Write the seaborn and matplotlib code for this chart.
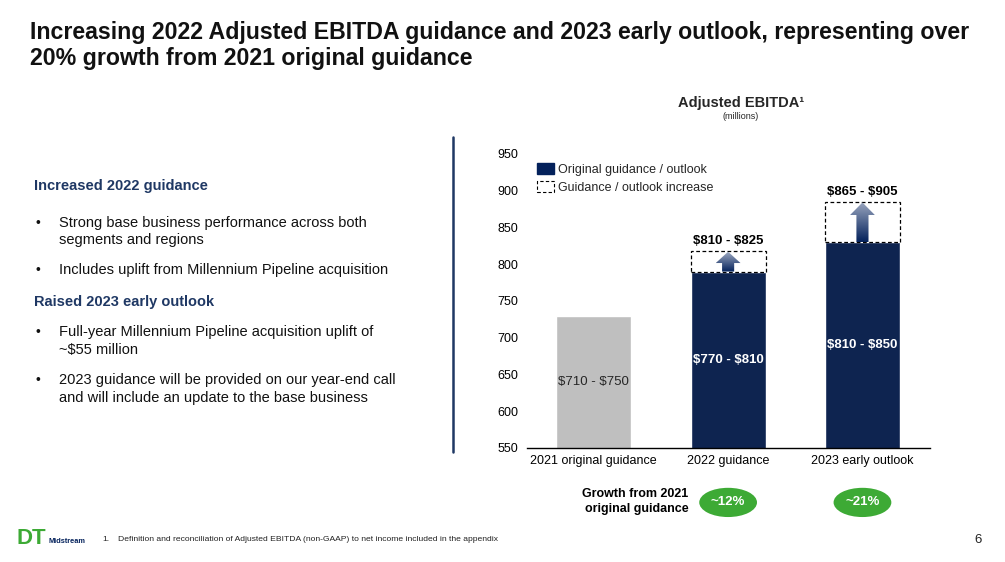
import matplotlib
matplotlib.use('Agg')
import matplotlib.pyplot as plt
import matplotlib.patches as mpatches
import matplotlib.transforms as mtransforms
import numpy as np
import pandas as pd
import seaborn as sns

# chart data
categories = ['2021 original guidance', '2022 guidance', '2023 early outlook']
base_values = [730, 790, 830]
increase_values = [0, 28, 55]
inside_labels = ['$710 - $750', '$770 - $810', '$810 - $850']
top_labels = ['', '$810 - $825', '$865 - $905']
growth_labels = ['', '~12%', '~21%']
y_ticks = [550, 600, 650, 700, 750, 800, 850, 900, 950]

NAVY = '#03215B'
GRAY = '#BFBFBF'
GREEN = '#3DAA35'
HEAD = '#1F3864'

sns.set_theme(style='white')
plt.rcParams['font.family'] = ['Liberation Sans', 'DejaVu Sans']

fig = plt.figure(figsize=(10.05, 5.62), dpi=100)
ax = fig.add_axes([0.524, 0.203, 0.401, 0.523])

df = pd.DataFrame({'category': categories, 'base': base_values})
sns.barplot(data=df, x='category', y='base', hue='category',
            palette=[GRAY, NAVY, NAVY], width=0.56, legend=False, ax=ax)

# dashed boxes for the increase
for i, inc in enumerate(increase_values):
    if inc > 0:
        ax.bar(i, inc, bottom=base_values[i], width=0.56, fill=False,
               edgecolor='black', linestyle=(0, (3, 2)), linewidth=0.9)

# gradient arrows inside the dashed boxes
grad = np.linspace(0, 1, 256).reshape(-1, 1)
cmap = matplotlib.colors.LinearSegmentedColormap.from_list('arr', [NAVY, '#9AA6BF'])
for i, inc in enumerate(increase_values):
    if inc <= 0:
        continue
    y0 = base_values[i]
    y1 = y0 + inc - 1
    yh = y1 - min(17, inc * 0.55)
    sw, hw = 0.045, 0.092
    pts = [(i - sw, y0), (i - sw, yh), (i - hw, yh), (i, y1),
           (i + hw, yh), (i + sw, yh), (i + sw, y0)]
    poly = mpatches.Polygon(pts, closed=True, facecolor='none', edgecolor='none',
                            transform=ax.transData)
    ax.add_patch(poly)
    im = ax.imshow(grad, cmap=cmap, extent=[i - hw, i + hw, y0, y1],
                   aspect='auto', origin='lower', zorder=3)
    im.set_clip_path(poly)

ax.set_ylim(550, 950)
ax.set_xlim(-0.5, 2.5)

# labels
for i in range(len(categories)):
    mid = (550 + base_values[i]) / 2
    ax.text(i, mid, inside_labels[i], ha='center', va='center', fontsize=9.5,
            color='#262626' if i == 0 else 'white',
            fontweight='bold' if i else 'normal', parse_math=False)
    if top_labels[i]:
        ax.text(i, base_values[i] + increase_values[i] + 5, top_labels[i],
                ha='center', va='bottom', fontsize=9.5, fontweight='bold',
                color='black', parse_math=False)

ax.set_yticks(y_ticks)
ax.set_xlabel('')
ax.set_ylabel('')
ax.tick_params(axis='both', length=0, labelsize=9, colors='black', pad=6)
ax.tick_params(axis='x', pad=5)
for s in ['top', 'right', 'left']:
    ax.spines[s].set_visible(False)
ax.spines['bottom'].set_color('black')
ax.spines['bottom'].set_linewidth(1)
ax.grid(False)

handles = [mpatches.Patch(facecolor=NAVY, edgecolor=NAVY, label='Original guidance / outlook'),
           mpatches.Patch(facecolor='none', edgecolor='black', linestyle=(0, (3, 2)),
                          linewidth=0.8, label='Guidance / outlook increase')]
ax.legend(handles=handles, loc='upper left', bbox_to_anchor=(0.003, 1.0), frameon=False,
          fontsize=9, handlelength=1.4, handleheight=1.0, handletextpad=0.35,
          labelspacing=0.45, borderaxespad=0.3)

# growth ellipses below the chart
blend = mtransforms.blended_transform_factory(ax.transData, fig.transFigure)
for i, g in enumerate(growth_labels):
    if not g:
        continue
    e = mpatches.Ellipse((i, 0.106), 0.43, 0.052, transform=blend,
                         facecolor=GREEN, edgecolor='none', clip_on=False)
    ax.add_patch(e)
    ax.text(i, 0.106, g, transform=blend, ha='center', va='center', fontsize=9.5,
            fontweight='bold', color='white', clip_on=False)

fig.text(0.685, 0.107, 'Growth from 2021\noriginal guidance', ha='right', va='center',
         fontsize=9, fontweight='bold', color='black', linespacing=1.35)

# chart heading
fig.text(0.737, 0.817, 'Adjusted EBITDA\u00b9', ha='center', va='center', fontsize=10.5,
         fontweight='bold')
fig.text(0.737, 0.792, '(millions)', ha='center', va='center', fontsize=6.5)

# slide title
fig.text(0.030, 0.962, 'Increasing 2022 Adjusted EBITDA guidance and 2023 early outlook, representing over\n'
         '20% growth from 2021 original guidance', ha='left', va='top', fontsize=16.7,
         fontweight='bold', color='#111111', linespacing=1.15)

# left column text
left = [
    (0.669, 'Increased 2022 guidance', 'head'),
    (0.588, 'Strong base business performance across both\nsegments and regions', 'bullet'),
    (0.519, 'Includes uplift from Millennium Pipeline acquisition', 'bullet'),
    (0.463, 'Raised 2023 early outlook', 'head'),
    (0.393, 'Full-year Millennium Pipeline acquisition uplift of\n~$55 million', 'bullet'),
    (0.308, '2023 guidance will be provided on our year-end call\nand will include an update to the base business', 'bullet'),
]
for y, t, kind in left:
    if kind == 'head':
        fig.text(0.034, y, t, ha='left', va='center', fontsize=10.5, fontweight='bold', color=HEAD)
    else:
        fig.text(0.035, y + (0.016 if '\n' in t else 0), '\u2022', ha='left', va='center',
                 fontsize=10, color='#111111')
        fig.text(0.059, y, t, ha='left', va='center', fontsize=10.5, color='#111111',
                 linespacing=1.3, parse_math=False)

# divider
fig.add_artist(plt.Line2D([0.451, 0.451], [0.196, 0.757], color=HEAD, linewidth=1.8))

# footer
fig.text(0.016, 0.041, 'DT', ha='left', va='center', fontsize=16, fontweight='bold',
         color=GREEN)
fig.text(0.048, 0.036, 'Midstream', ha='left', va='center', fontsize=5.3, fontweight='bold',
         color=NAVY)
fig.text(0.102, 0.040, '1.', ha='left', va='center', fontsize=6.1, color='#222222')
fig.text(0.117, 0.040, 'Definition and reconciliation of Adjusted EBITDA (non-GAAP) to net income included in the appendix',
         ha='left', va='center', fontsize=6.1, color='#222222')
fig.text(0.977, 0.040, '6', ha='right', va='center', fontsize=9.5, color='#222222')

fig.savefig('out.png', dpi=100)
